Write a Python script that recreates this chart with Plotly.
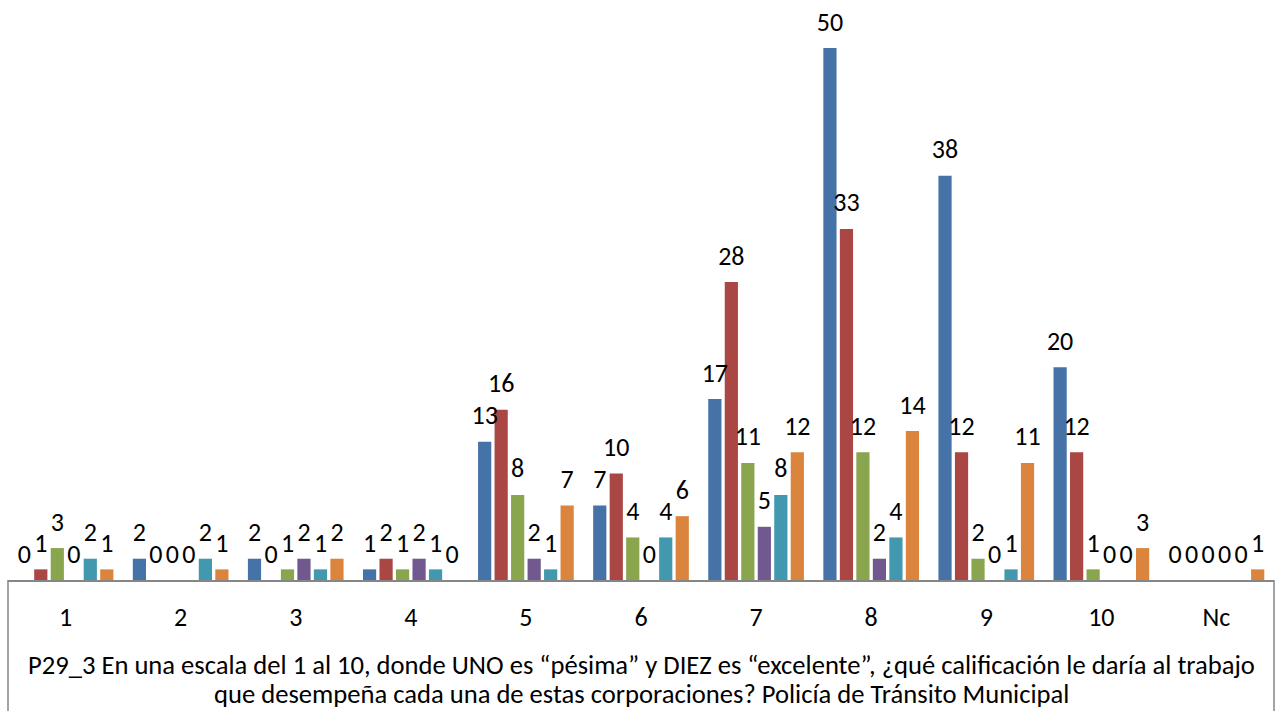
import plotly.graph_objects as go

categories = ["1", "2", "3", "4", "5", "6", "7", "8", "9", "10", "Nc"]
serie_1 = [0, 2, 2, 1, 13, 7, 17, 50, 38, 20, 0]
serie_2 = [1, 0, 0, 2, 16, 10, 28, 33, 12, 12, 0]
serie_3 = [3, 0, 1, 1, 8, 4, 11, 12, 2, 1, 0]
serie_4 = [0, 0, 2, 2, 2, 0, 5, 2, 0, 0, 0]
serie_5 = [2, 2, 1, 1, 1, 4, 8, 4, 1, 0, 0]
serie_6 = [1, 1, 2, 0, 7, 6, 12, 14, 11, 3, 1]
series = [serie_1, serie_2, serie_3, serie_4, serie_5, serie_6]
colors = ["#4572A7", "#AA4643", "#89A54E", "#71588F", "#4198AF", "#DB843D"]
title_lines = [
    "P29_3 En una escala del 1 al 10, donde UNO es “pésima” y DIEZ es “excelente”, "
    "¿qué calificación le daría al trabajo",
    "que desempeña cada una de estas corporaciones? Policía de Tránsito Municipal",
]

FONT = "Calibri, Carlito, 'Open Sans', sans-serif"
FS = 26
GAP = 0.14

fig = go.Figure()
for i, (vals, col) in enumerate(zip(series, colors)):
    fig.add_trace(go.Bar(
        x=categories, y=vals,
        marker=dict(color=col, line=dict(width=0)),
        offsetgroup="b%d" % i,
        alignmentgroup="bars",
        showlegend=False,
    ))
for i, vals in enumerate(series):
    fig.add_trace(go.Scatter(
        x=categories, y=vals,
        mode="markers+text",
        marker=dict(size=16, opacity=0),
        text=[str(v) for v in vals],
        textposition="top center",
        textfont=dict(family=FONT, size=FS, color="#000000"),
        offsetgroup="s%d" % i,
        alignmentgroup="labels",
        cliponaxis=False,
        hoverinfo="skip",
        showlegend=False,
    ))

W, H = 1280, 711
top, bottom = 8, 131
plot_h = H - top - bottom

annotations = []
for i, line in enumerate(title_lines):
    annotations.append(dict(text=line, xref="paper", yref="paper", x=0.5,
                            y=-(85 + 29 * i) / plot_h,
                            xanchor="center", yanchor="middle", showarrow=False,
                            font=dict(family=FONT, size=26.6, color="#000000")))

fig.update_layout(
    width=W, height=H,
    margin=dict(l=8, r=6, t=top, b=bottom),
    paper_bgcolor="white", plot_bgcolor="white",
    barmode="group", bargap=GAP, bargroupgap=0.2,
    scattermode="group", scattergap=GAP,
    font=dict(family=FONT, size=FS, color="#000000"),
    xaxis=dict(showline=True, linecolor="#868686", linewidth=1.5,
               ticks="", showgrid=False, zeroline=False,
               tickfont=dict(family=FONT, size=FS, color="#000000"),
               ticklabelstandoff=13),
    yaxis=dict(visible=False, range=[0, 53.76], showgrid=False, zeroline=False),
    shapes=[
        dict(type="line", xref="paper", yref="paper", x0=0, x1=0, y0=0, y1=-bottom / plot_h,
             line=dict(color="#868686", width=1.5)),
        dict(type="line", xref="paper", yref="paper", x0=1, x1=1, y0=0, y1=-bottom / plot_h,
             line=dict(color="#868686", width=1.5)),
    ],
    annotations=annotations,
)

fig.write_html("out.html", config={"displayModeBar": False},
               post_script="document.body.style.margin='0px';document.body.style.overflow='hidden';")
